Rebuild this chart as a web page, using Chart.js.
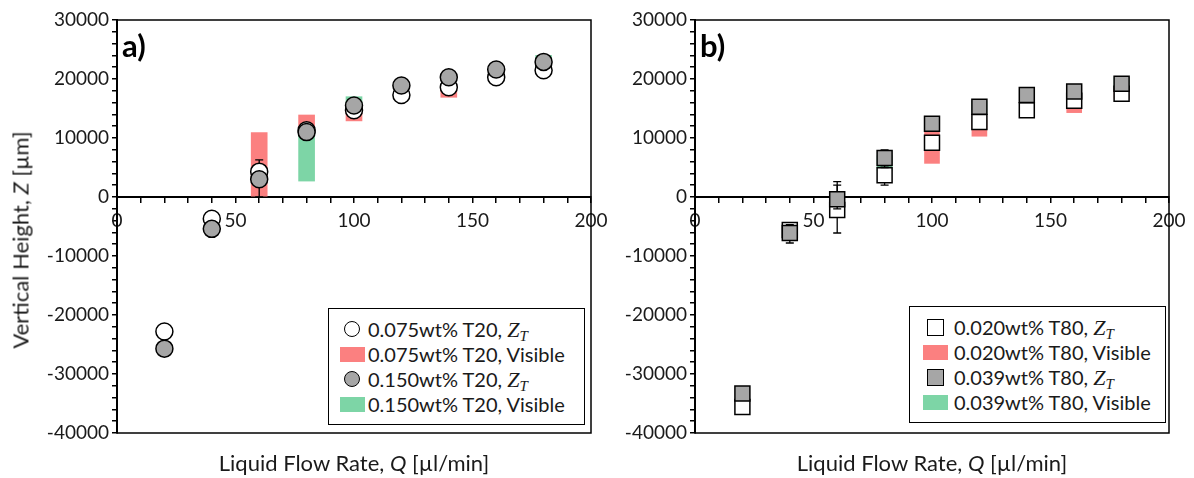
<!DOCTYPE html>
<html>
<head>
<meta charset="utf-8">
<script src="https://cdn.jsdelivr.net/npm/chart.js@4.4.1/dist/chart.umd.min.js"></script>
<style>
  body { margin: 0; background: #fff; font-family: Lato, sans-serif; color: #1a1a1a; }
  #wrap { position: relative; width: 1194px; height: 478px; overflow: hidden; }
  .panel { position: absolute; top: 0; height: 478px; }
  .xtitle { position: absolute; top: 449px; font-size: 22px; white-space: nowrap; transform: translateX(-50%); }
  .ytitle { position: absolute; left: 20px; top: 240px; font-size: 22px; white-space: nowrap;
            transform: translate(-50%, -50%) rotate(-90deg); }
  .legend { position: absolute; box-sizing: border-box; border: 1.5px solid #000; background: #fff; }
  .row { position: absolute; left: 0; height: 24px; font-size: 20px; line-height: 24px; white-space: nowrap; }
  .sym { position: absolute; box-sizing: border-box; }
  .txt { position: absolute; top: 0; }
  .m { font-family: "Liberation Serif", serif; font-style: italic; font-size: 22px; }
  .m sub { font-size: 15px; vertical-align: -4px; }
</style>
</head>
<body>
<div id="wrap">
  <div class="panel" style="left:0;width:640px"><canvas id="chartA" width="640" height="478"></canvas></div>
  <div class="panel" style="left:597px;width:597px"><canvas id="chartB" width="597" height="478"></canvas></div>
  <div class="ytitle">Vertical Height, <i>Z</i> [µm]</div>
  <div class="xtitle" style="left:354px">Liquid Flow Rate, <i>Q</i> [µl/min]</div>
  <div class="xtitle" style="left:932px">Liquid Flow Rate, <i>Q</i> [µl/min]</div>
</div>
<script>
// flow rates (µl/min)
const flowRates = [20, 40, 60, 80, 100, 120, 140, 160, 180];

// panel a) T20
const aZt075 = [-22800, -3700, 4300, 11300, 14700, 17300, 18600, 20300, 21500];
const aZt150 = [-25700, -5400, 3000, 11000, 15500, 18900, 20300, 21600, 22900];
const aVis075Lo = [null, null, 0, 11000, 12900, null, 16900, null, null];
const aVis075Hi = [null, null, 10900, 13900, 15000, null, 19000, null, null];
const aVis150Lo = [null, null, null, 2700, 15000, null, null, null, 21500];
const aVis150Hi = [null, null, null, 11000, 17000, null, null, null, 24000];
const aErr075Lo = [null, null, 0, null, null, null, null, null, null];
const aErr075Hi = [null, null, 6300, null, null, null, null, null, null];

// panel b) T80
const bZt020 = [-35600, -5600, -2200, 3700, 9200, 12700, 14700, 16300, 17500];
const bZt039 = [-33300, -6100, -400, 6600, 12400, 15300, 17300, 17900, 19200];
const bVis020Lo = [null, null, null, null, 5700, 10300, 14100, 14300, 16700];
const bVis020Hi = [null, null, null, null, 11000, 13000, 16500, 17000, 18500];
const bVis039Lo = [null, null, null, 4500, 11500, 14200, 16200, 17000, 18200];
const bVis039Hi = [null, null, null, 7000, 13500, 16200, 18400, 19000, 20200];
const bErr020Lo = [null, -7800, -6100, 2000, null, null, null, null, null];
const bErr020Hi = [null, -4800, 2000, 5000, null, null, null, null, null];
const bErr039Lo = [null, -7200, -2000, 5000, null, null, null, null, null];
const bErr039Hi = [null, -4700, 2600, 8000, null, null, null, null, null];

// axes
const xTicksMajor = [0, 50, 100, 150, 200];
const yTicksMajor = [-40000, -30000, -20000, -10000, 0, 10000, 20000, 30000];

const legendA = ["0.075wt% T20, ", "0.075wt% T20, Visible", "0.150wt% T20, ", "0.150wt% T20, Visible"];
const legendB = ["0.020wt% T80, ", "0.020wt% T80, Visible", "0.039wt% T80, ", "0.039wt% T80, Visible"];

const RED = "#fb8080";
const GREEN = "#7dd5a6";
const GREY = "#a6a6a6";

const pts = vals => flowRates.map((x, i) => ({ x, y: vals[i] })).filter(p => p.y !== null);
const ranges = (lo, hi) => flowRates.map((x, i) => ({ x, y: [lo[i], hi[i]] })).filter(p => p.y[0] !== null);

// frame + panel letter
const framePlugin = {
  id: "frame",
  afterDraw(chart, args, opts) {
    const { ctx, chartArea: a } = chart;
    ctx.save();
    ctx.strokeStyle = "#000";
    ctx.lineWidth = 1.5;
    ctx.strokeRect(a.left, a.top, a.right - a.left, a.bottom - a.top);
    ctx.fillStyle = "#000";
    ctx.font = "bold 31px Lato";
    ctx.textBaseline = "alphabetic";
    ctx.fillText(opts.letter, a.left + 5, a.top + 37);
    ctx.restore();
  }
};

// error bars, drawn just under each point dataset
const errPlugin = {
  id: "errbars",
  beforeDatasetDraw(chart, args) {
    const ds = chart.data.datasets[args.index];
    if (!ds.errLo) return;
    const { ctx, scales } = chart;
    ctx.save();
    ctx.strokeStyle = "#000";
    ctx.lineWidth = 1.3;
    flowRates.forEach((q, i) => {
      if (ds.errLo[i] === null) return;
      const px = scales.x.getPixelForValue(q);
      const lo = scales.y.getPixelForValue(ds.errLo[i]);
      const hi = scales.y.getPixelForValue(ds.errHi[i]);
      ctx.beginPath();
      ctx.moveTo(px, lo); ctx.lineTo(px, hi);
      ctx.moveTo(px - 4, lo); ctx.lineTo(px + 4, lo);
      ctx.moveTo(px - 4, hi); ctx.lineTo(px + 4, hi);
      ctx.stroke();
    });
    ctx.restore();
  }
};

function makeChart(id, cfg) {
  const tickFont = { family: "Lato", size: 19 };
  return new Chart(document.getElementById(id), {
    type: "bar",
    data: {
      datasets: [
        { type: "scatter", data: pts(cfg.z1), order: 2, pointStyle: cfg.style, pointRadius: cfg.radius,
          backgroundColor: "#fff", borderColor: "#000", borderWidth: 1.5, errLo: cfg.e1Lo, errHi: cfg.e1Hi },
        { type: "bar", data: ranges(cfg.v1Lo, cfg.v1Hi), order: 4, backgroundColor: RED,
          grouped: false, barThickness: cfg.bar },
        { type: "scatter", data: pts(cfg.z2), order: 1, pointStyle: cfg.style, pointRadius: cfg.radius,
          backgroundColor: GREY, borderColor: "#000", borderWidth: 1.5, errLo: cfg.e2Lo, errHi: cfg.e2Hi },
        { type: "bar", data: ranges(cfg.v2Lo, cfg.v2Hi), order: 3, backgroundColor: GREEN,
          grouped: false, barThickness: cfg.bar }
      ]
    },
    options: {
      responsive: false,
      animation: false,
      events: [],
      layout: { padding: { left: 0, top: 20, right: cfg.padRight, bottom: 45 } },
      plugins: { legend: { display: false }, tooltip: { enabled: false }, frame: { letter: cfg.letter } },
      scales: {
        x: {
          type: "linear", min: 0, max: 200, offset: false, position: { y: 0 },
          afterFit(s) { s.paddingLeft = 0; s.paddingRight = 0; },
          ticks: { stepSize: 10, autoSkip: false, maxRotation: 0, padding: 7, color: "#1a1a1a", font: tickFont,
                   callback: v => xTicksMajor.includes(v) ? String(v) : "" },
          grid: { drawOnChartArea: false, offset: false, tickLength: 5, color: "#000", lineWidth: 1.5 },
          border: { color: "#000", width: 2 }
        },
        y: {
          type: "linear", min: -40000, max: 30000,
          afterFit(s) { s.width = cfg.yWidth; },
          ticks: { stepSize: 2000, autoSkip: false, padding: 3, color: "#1a1a1a", font: tickFont,
                   callback: v => yTicksMajor.includes(v) ? String(v) : "" },
          grid: { drawOnChartArea: false, tickLength: 5, color: "#000", lineWidth: 1.5 },
          border: { color: "#000", width: 2 }
        }
      }
    },
    plugins: [framePlugin, errPlugin]
  });
}

makeChart("chartA", {
  z1: aZt075, z2: aZt150, v1Lo: aVis075Lo, v1Hi: aVis075Hi, v2Lo: aVis150Lo, v2Hi: aVis150Hi,
  e1Lo: aErr075Lo, e1Hi: aErr075Hi, e2Lo: null, e2Hi: null,
  style: "circle", radius: 8.5, bar: 16, yWidth: 117, padRight: 49, letter: "a)"
});
makeChart("chartB", {
  z1: bZt020, z2: bZt039, v1Lo: bVis020Lo, v1Hi: bVis020Hi, v2Lo: bVis039Lo, v2Hi: bVis039Hi,
  e1Lo: bErr020Lo, e1Hi: bErr020Hi, e2Lo: bErr039Lo, e2Hi: bErr039Hi,
  style: "rect", radius: 10.6, bar: 15, yWidth: 98, padRight: 25, letter: "b)"
});

// legends (html so Z_T can be set in italics)
function makeLegend(left, top, labels, shape, symX, txtX) {
  const box = document.createElement("div");
  box.className = "legend";
  Object.assign(box.style, { left: left + "px", top: top + "px", width: "257px", height: "117px" });
  const fills = ["#fff", RED, GREY, GREEN];
  labels.forEach((lab, i) => {
    const row = document.createElement("div");
    row.className = "row";
    row.style.top = (8 + i * 25) + "px";
    const sym = document.createElement("div");
    sym.className = "sym";
    if (i % 2 === 0) {
      const s = shape === "circle" ? 16 : 17;
      Object.assign(sym.style, { left: (symX - s / 2) + "px", top: (12 - s / 2) + "px", width: s + "px", height: s + "px",
        background: fills[i], border: "1.5px solid #000", borderRadius: shape === "circle" ? "50%" : "0" });
    } else {
      Object.assign(sym.style, { left: (symX - 12.5) + "px", top: "5px", width: "25px", height: "15px", background: fills[i] });
    }
    const txt = document.createElement("span");
    txt.className = "txt";
    txt.style.left = txtX + "px";
    txt.textContent = lab;
    if (i % 2 === 0) {
      const m = document.createElement("span");
      m.className = "m";
      m.innerHTML = "Z<sub>T</sub>";
      txt.appendChild(m);
    }
    row.appendChild(sym);
    row.appendChild(txt);
    box.appendChild(row);
  });
  document.getElementById("wrap").appendChild(box);
}
makeLegend(328, 308, legendA, "circle", 23, 39);
makeLegend(909, 306, legendB, "rect", 25, 44);
</script>
</body>
</html>
